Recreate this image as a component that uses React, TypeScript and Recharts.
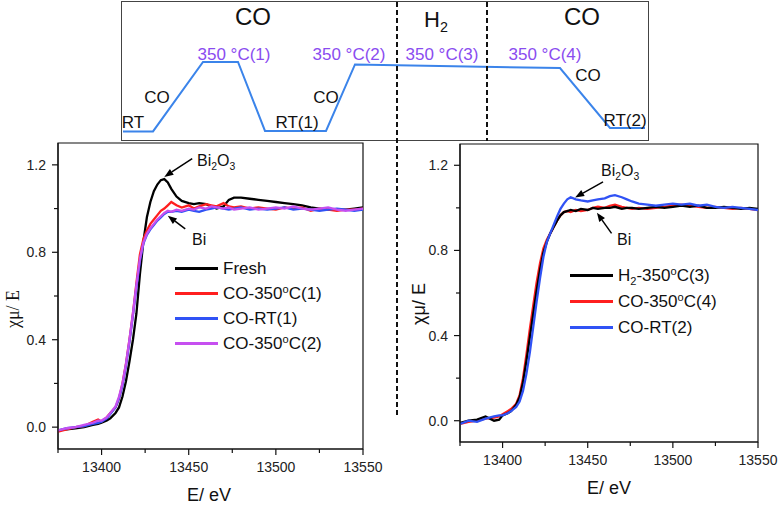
import React from 'react';
import { LineChart, Line, XAxis, YAxis, ReferenceArea, ReferenceLine, Legend } from 'recharts';

// energy grid (eV), shared by both XANES panels
const ENERGY = [
  13375, 13380, 13385, 13390, 13395, 13398, 13400, 13403, 13405, 13408,
  13410, 13412, 13414, 13416, 13418, 13420, 13422, 13424, 13426, 13428,
  13430, 13432, 13434, 13436, 13438, 13440, 13443, 13446, 13450, 13453,
  13456, 13460, 13463, 13466, 13470, 13473, 13476, 13480, 13485, 13490,
  13495, 13500, 13505, 13510, 13515, 13520, 13525, 13530, 13535, 13540,
  13545, 13550,
];

// left panel
const FRESH = [
  -0.015, -0.01, -0.005, 0.0, 0.01, 0.015, 0.02, 0.03, 0.04, 0.065,
  0.09, 0.14, 0.21, 0.3, 0.4, 0.52, 0.7, 0.85, 0.96, 1.03,
  1.08, 1.11, 1.13, 1.135, 1.12, 1.09, 1.055, 1.035, 1.025, 1.02,
  1.025, 1.02, 1.01, 1.0, 1.01, 1.04, 1.05, 1.05, 1.045, 1.04,
  1.035, 1.03, 1.025, 1.02, 1.015, 1.005, 1.0, 0.995, 0.995, 0.995,
  1.0, 1.005,
];
const CO_350_1 = [
  -0.02, -0.01, 0.0, 0.005, 0.025, 0.035, 0.025, 0.045, 0.065, 0.09,
  0.13, 0.2, 0.29, 0.4, 0.52, 0.66, 0.79, 0.86, 0.9, 0.93,
  0.95, 0.97, 0.99, 1.0, 1.015, 1.03, 1.015, 1.005, 1.015, 1.0,
  1.01, 1.02, 1.015, 1.01, 1.025, 1.01, 1.005, 1.01, 1.0, 1.005,
  1.0, 0.995, 1.005, 1.0, 1.005, 0.99, 1.0, 0.995, 0.99, 0.995,
  0.995, 1.0,
];
const CO_RT_1 = [
  -0.015, -0.005, 0.0, 0.005, 0.015, 0.02, 0.025, 0.04, 0.06, 0.09,
  0.13, 0.19, 0.28, 0.39, 0.51, 0.64, 0.76, 0.84, 0.88, 0.905,
  0.925, 0.945, 0.96, 0.975, 0.985, 0.985, 0.99, 0.985, 0.995, 0.99,
  0.985, 0.995, 1.0, 1.005, 1.0, 0.995, 1.0, 1.005, 0.995, 1.0,
  0.995, 1.0, 1.005, 0.995, 1.0, 0.995, 0.99, 0.995, 1.0, 0.995,
  0.99, 0.995,
];
const CO_350_2 = [
  -0.015, -0.005, 0.0, 0.01, 0.02, 0.03, 0.03, 0.045, 0.065, 0.095,
  0.14, 0.2, 0.29, 0.4, 0.52, 0.65, 0.77, 0.845, 0.885, 0.91,
  0.93, 0.95, 0.965, 0.98, 0.99, 0.985, 0.995, 0.99, 1.0, 0.995,
  1.005, 1.0, 1.01, 1.005, 1.0, 1.005, 0.995, 1.0, 1.005, 0.995,
  1.0, 1.005, 1.0, 1.01, 1.0, 0.995, 1.0, 1.005, 0.995, 0.99,
  0.995, 1.0,
];

// right panel
const H2_350_3 = [
  -0.01, 0.0, 0.005, 0.02, 0.0, 0.005, 0.025, 0.035, 0.045, 0.075,
  0.11, 0.18, 0.28, 0.39, 0.5, 0.61, 0.71, 0.79, 0.84, 0.88,
  0.91, 0.94, 0.965, 0.98, 0.985, 0.99, 0.985, 0.995, 0.99, 1.0,
  0.995, 1.0, 1.0, 1.005, 0.995, 1.0, 1.0, 0.995, 1.0, 1.005,
  1.0, 1.005, 1.01, 1.005, 1.01, 1.0, 1.0, 1.005, 1.0, 0.995,
  1.0, 0.995,
];
const CO_350_4 = [
  -0.015, -0.005, 0.0, 0.01, 0.015, 0.02, 0.03, 0.045, 0.055, 0.08,
  0.12, 0.2, 0.31, 0.43, 0.54, 0.65, 0.74, 0.81, 0.85, 0.88,
  0.91, 0.94, 0.965, 0.98, 0.985, 0.98, 0.99, 0.985, 0.99, 1.0,
  1.005, 1.0, 1.01, 1.015, 1.005, 1.0, 0.995, 1.0, 0.995, 1.0,
  1.005, 1.01, 1.015, 1.01, 1.005, 1.0, 1.005, 1.0, 0.995, 1.0,
  0.995, 0.99,
];
const CO_RT_2 = [
  -0.015, 0.0, -0.005, 0.01, 0.02, 0.025, 0.025, 0.035, 0.045, 0.065,
  0.09, 0.14, 0.22, 0.32, 0.44, 0.56, 0.67, 0.77, 0.84, 0.88,
  0.92, 0.96, 0.995, 1.02, 1.04, 1.05, 1.04, 1.035, 1.03, 1.035,
  1.04, 1.045, 1.055, 1.06, 1.05, 1.04, 1.03, 1.02, 1.015, 1.01,
  1.015, 1.02, 1.015, 1.02, 1.01, 1.015, 1.005, 1.0, 1.005, 1.0,
  0.995, 0.99,
];

// temperature program (schematic time units, °C)
const PROGRAM_TIME = [2, 32, 82, 117, 144, 205, 234, 439, 489, 524];
const PROGRAM_TEMP = [25, 25, 350, 350, 27, 27, 338, 321, 41, 41];

const X_TICKS = [13375, 13400, 13425, 13450, 13475, 13500, 13525, 13550];
const X_LABELS = [13400, 13450, 13500, 13550];
const Y_TICKS = [0, 0.2, 0.4, 0.6, 0.8, 1.0, 1.2];
const Y_LABELS = [0, 0.4, 0.8, 1.2];

// annotation arrows, data coords [E1, mu1, E2 (tip), mu2 (tip)]
const LEFT_ARROWS = [
  [13452, 1.229, 13436, 1.145],
  [13448, 0.907, 13438, 0.967],
];
const RIGHT_ARROWS = [
  [13459, 1.122, 13442.6, 1.049],
  [13464, 0.88, 13455.4, 0.977],
];

const FONT = 'Liberation Sans, Arial, sans-serif';
const BLACK = '#000000';
const RED = '#ff1f1f';
const BLUE = '#3052f5';
const MAGENTA = '#c64ff0';
const PURPLE = '#8a4cf0';

const leftRows = ENERGY.map((e, i) => ({ e, fresh: FRESH[i], co1: CO_350_1[i], rt1: CO_RT_1[i], co2: CO_350_2[i] }));
const rightRows = ENERGY.map((e, i) => ({ e, h3: H2_350_3[i], co4: CO_350_4[i], rt2: CO_RT_2[i] }));
const programRows = PROGRAM_TIME.map((t, i) => ({ t, temp: PROGRAM_TEMP[i] }));

const sup = (s: string) => <sup style={{ fontSize: '0.65em', verticalAlign: '0.55em', lineHeight: 0 }}>{s}</sup>;
const sub = (s: string) => <sub style={{ fontSize: '0.65em', verticalAlign: '-0.35em', lineHeight: 0 }}>{s}</sub>;

const leftSeries = [
  { key: 'fresh', color: BLACK, label: <>Fresh</> },
  { key: 'co1', color: RED, label: <>CO-350{sup('o')}C(1)</> },
  { key: 'rt1', color: BLUE, label: <>CO-RT(1)</> },
  { key: 'co2', color: MAGENTA, label: <>CO-350{sup('o')}C(2)</> },
];
const rightSeries = [
  { key: 'h3', color: BLACK, label: <>H{sub('2')}-350{sup('o')}C(3)</> },
  { key: 'co4', color: RED, label: <>CO-350{sup('o')}C(4)</> },
  { key: 'rt2', color: BLUE, label: <>CO-RT(2)</> },
];

const XTick = (p: any) => {
  const { x, y, payload } = p;
  const major = X_LABELS.includes(payload.value);
  return (
    <g>
      <line x1={x} x2={x} y1={y} y2={y + (major ? 6 : 4)} stroke="#111" strokeWidth={1.2} />
      {major && (
        <text x={x} y={y + 23} textAnchor="middle" fontSize={14} fontFamily={FONT} fill="#222">
          {payload.value}
        </text>
      )}
    </g>
  );
};

const YTick = (p: any) => {
  const { x, y, payload } = p;
  const major = Y_LABELS.some((v) => Math.abs(v - payload.value) < 1e-6);
  return (
    <g>
      <line x1={x - (major ? 6 : 4)} x2={x} y1={y} y2={y} stroke="#111" strokeWidth={1.2} />
      {major && (
        <text x={x - 12} y={y + 5} textAnchor="end" fontSize={14} fontFamily={FONT} fill="#222">
          {Number(payload.value).toFixed(1)}
        </text>
      )}
    </g>
  );
};

const Arrow = (p: any) => {
  const { x1, y1, x2, y2 } = p;
  const dx = x2 - x1;
  const dy = y2 - y1;
  const len = Math.hypot(dx, dy) || 1;
  const ux = dx / len;
  const uy = dy / len;
  const bx = x2 - ux * 9;
  const by = y2 - uy * 9;
  return (
    <g>
      <line x1={x1} y1={y1} x2={bx} y2={by} stroke="#000" strokeWidth={1.5} />
      <polygon points={`${x2},${y2} ${bx - uy * 3.5},${by + ux * 3.5} ${bx + uy * 3.5},${by - ux * 3.5}`} fill="#000" />
    </g>
  );
};

const legendBox = (items: typeof leftSeries, rowH: number) => () => (
  <div style={{ fontFamily: FONT, fontSize: 17, color: '#111' }}>
    {items.map((it) => (
      <div key={it.key} style={{ display: 'flex', alignItems: 'center', height: rowH, whiteSpace: 'nowrap' }}>
        <div style={{ width: 43, height: 3, background: it.color, marginRight: 5 }} />
        <span style={{ lineHeight: 1 }}>{it.label}</span>
      </div>
    ))}
  </div>
);

type PanelProps = {
  rows: any[];
  series: typeof leftSeries;
  order: string[];
  arrows: number[][];
  width: number;
  height: number;
  yWidth: number;
  margin: { top: number; right: number; bottom: number; left: number };
  legendPos: { left: number; top: number };
  rowH: number;
};

const XanesPanel = ({ rows, series, order, arrows, width, height, yWidth, margin, legendPos, rowH }: PanelProps) => (
  <LineChart width={width} height={height} data={rows} margin={margin}>
    <XAxis
      dataKey="e"
      type="number"
      domain={[13375, 13550]}
      ticks={X_TICKS}
      interval={0}
      height={30}
      tickSize={0}
      tickMargin={0}
      tickLine={false}
      tick={XTick}
      axisLine={{ stroke: '#111', strokeWidth: 1.2 }}
      allowDataOverflow
    />
    <YAxis
      type="number"
      domain={[-0.1, 1.3]}
      ticks={Y_TICKS}
      interval={0}
      width={yWidth}
      tickSize={0}
      tickMargin={0}
      tickLine={false}
      tick={YTick}
      axisLine={{ stroke: '#111', strokeWidth: 1.2 }}
      allowDataOverflow
    />
    <ReferenceArea x1={13375} x2={13550} y1={-0.1} y2={1.3} fill="none" stroke="#111" strokeWidth={1.2} ifOverflow="visible" />
    {order.map((k) => {
      const s = series.find((it) => it.key === k)!;
      return <Line key={k} dataKey={k} type="linear" stroke={s.color} strokeWidth={2.3} dot={false} isAnimationActive={false} />;
    })}
    {arrows.map((a, i) => (
      <ReferenceLine key={i} segment={[{ x: a[0], y: a[1] }, { x: a[2], y: a[3] }]} shape={Arrow} ifOverflow="visible" />
    ))}
    <Legend
      layout="vertical"
      align="center"
      verticalAlign="middle"
      content={legendBox(series, rowH)}
      wrapperStyle={{ left: legendPos.left, top: legendPos.top, width: 'auto' }}
    />
  </LineChart>
);

const Txt = ({ x, y, size, color = '#111', family = FONT, children, anchor = 'center' }: any) => (
  <div
    style={{
      position: 'absolute',
      left: x,
      top: y,
      transform: anchor === 'center' ? 'translate(-50%, -50%)' : 'translate(0, -50%)',
      fontSize: size,
      fontFamily: family,
      color,
      lineHeight: 1,
      whiteSpace: 'nowrap',
    }}
  >
    {children}
  </div>
);

export default function App() {
  return (
    <div style={{ position: 'absolute', left: 0, top: 0, width: 780, height: 505, background: '#fff', overflow: 'hidden' }}>
      {/* temperature program box */}
      <div style={{ position: 'absolute', left: 121, top: 1, width: 528, height: 140, border: '1.5px solid #444', boxSizing: 'border-box' }} />
      <div style={{ position: 'absolute', left: 121, top: 2 }}>
        <LineChart width={528} height={139} data={programRows} margin={{ top: 0, right: 0, bottom: 0, left: 0 }}>
          <XAxis dataKey="t" type="number" domain={[0, 528]} hide />
          <YAxis type="number" domain={[-20, 630]} hide />
          <Line dataKey="temp" type="linear" stroke="#3b84ea" strokeWidth={2} dot={false} isAnimationActive={false} />
        </LineChart>
      </div>
      <Txt x={253} y={17} size={24}>CO</Txt>
      <Txt x={436} y={20} size={22}>H{sub('2')}</Txt>
      <Txt x={582} y={17} size={24}>CO</Txt>
      <Txt x={234} y={54} size={17} color={PURPLE}>350 °C(1)</Txt>
      <Txt x={349} y={54} size={17} color={PURPLE}>350 °C(2)</Txt>
      <Txt x={442} y={54} size={17} color={PURPLE}>350 °C(3)</Txt>
      <Txt x={545} y={54} size={17} color={PURPLE}>350 °C(4)</Txt>
      <Txt x={133} y={122} size={17}>RT</Txt>
      <Txt x={157} y={97} size={17}>CO</Txt>
      <Txt x={297} y={122} size={17}>RT(1)</Txt>
      <Txt x={326} y={97} size={17}>CO</Txt>
      <Txt x={588} y={75} size={17}>CO</Txt>
      <Txt x={625} y={120} size={17}>RT(2)</Txt>

      {/* left XANES panel */}
      <div style={{ position: 'absolute', left: 0, top: 140 }}>
        <XanesPanel
          rows={leftRows}
          series={leftSeries}
          order={['fresh', 'co1', 'rt1', 'co2']}
          arrows={LEFT_ARROWS}
          width={400}
          height={365}
          yWidth={58}
          margin={{ top: 3, right: 37, bottom: 26, left: 0 }}
          legendPos={{ left: 175, top: 116 }}
          rowH={25}
        />
      </div>
      {/* right XANES panel */}
      <div style={{ position: 'absolute', left: 395, top: 140 }}>
        <XanesPanel
          rows={rightRows}
          series={rightSeries}
          order={['co4', 'h3', 'rt2']}
          arrows={RIGHT_ARROWS}
          width={385}
          height={365}
          yWidth={65}
          margin={{ top: 4, right: 22, bottom: 33, left: 0 }}
          legendPos={{ left: 175, top: 122 }}
          rowH={26}
        />
      </div>

      <Txt x={197} y={161} size={16} anchor="left">Bi{sub('2')}O{sub('3')}</Txt>
      <Txt x={192} y={240} size={16} anchor="left">Bi</Txt>
      <Txt x={601} y={171} size={16} anchor="left">Bi{sub('2')}O{sub('3')}</Txt>
      <Txt x={617} y={240} size={16} anchor="left">Bi</Txt>

      <Txt x={209} y={495} size={18}>E/ eV</Txt>
      <Txt x={609} y={488} size={18}>E/ eV</Txt>
      <div style={{ position: 'absolute', left: 13, top: 309, transform: 'translate(-50%, -50%) rotate(-90deg)', fontFamily: 'Liberation Serif, Times New Roman, serif', fontSize: 18, lineHeight: 1, whiteSpace: 'nowrap', color: '#111' }}>
        χμ/ E
      </div>
      <div style={{ position: 'absolute', left: 419, top: 304, transform: 'translate(-50%, -50%) rotate(-90deg)', fontFamily: FONT, fontSize: 18, lineHeight: 1, whiteSpace: 'nowrap', color: '#111' }}>
        χμ/ E
      </div>

      {/* stage separators */}
      <svg width={780} height={505} style={{ position: 'absolute', left: 0, top: 0, pointerEvents: 'none' }}>
        <line x1={397} x2={397} y1={2} y2={418} stroke="#111" strokeWidth={2} strokeDasharray="5 3" />
        <line x1={487} x2={487} y1={2} y2={141} stroke="#111" strokeWidth={2} strokeDasharray="5 3" />
      </svg>
    </div>
  );
}
